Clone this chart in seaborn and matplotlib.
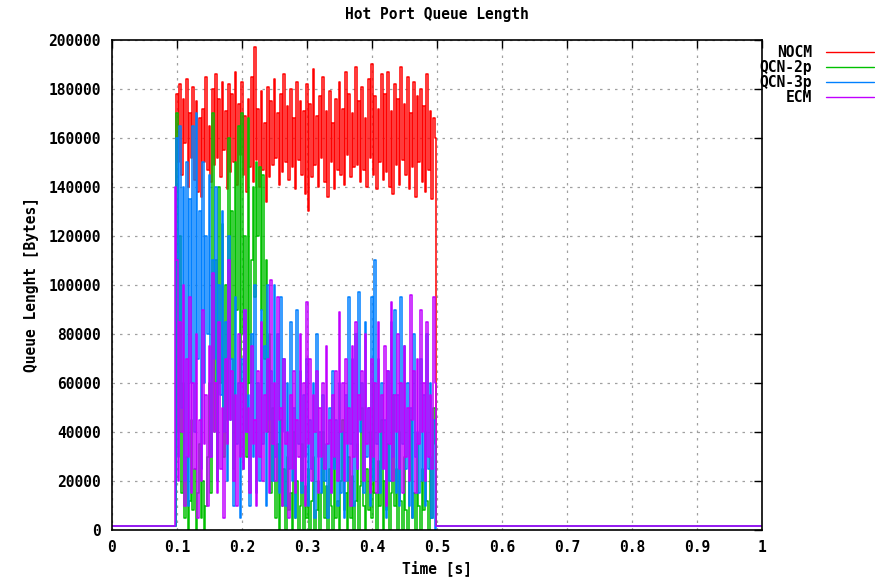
import numpy as np
import pandas as pd
import matplotlib
matplotlib.use("Agg")
import matplotlib.pyplot as plt
import seaborn as sns

# ---------------- data (values in kB, sampled every 2.5 ms from 0.1 s) ----------------
series_names = ["NOCM", "QCN-2p", "QCN-3p", "ECM"]
series_colors = ["#ff0000", "#00c000", "#0080ff", "#c000ff"]

t_active_start = 0.1
t_step = 0.0025

nocm_kb = [
    178, 150, 182, 145, 176, 158, 184, 140, 170, 152,
    181, 143, 175, 138, 168, 136, 172, 150, 185, 147,
    165, 142, 180, 149, 186, 152, 176, 144, 183, 155,
    171, 139, 182, 146, 178, 150, 187, 141, 174, 153,
    183, 145, 169, 138, 176, 148, 185, 142, 197, 151,
    172, 140, 179, 147, 166, 134, 181, 144, 175, 149,
    184, 152, 170, 141, 178, 146, 186, 150, 173, 143,
    180, 148, 168, 139, 183, 151, 175, 145, 171, 137,
    182, 130, 174, 144, 188, 149, 169, 140, 177, 152,
    185, 142, 171, 136, 179, 150, 166, 139, 176, 147,
    183, 145, 172, 141, 187, 153, 178, 144, 170, 148,
    189, 149, 175, 142, 181, 147, 168, 140, 184, 152,
    190, 145, 177, 139, 172, 150, 186, 143, 178, 146,
    187, 140, 171, 137, 182, 149, 176, 141, 189, 151,
    174, 145, 185, 139, 170, 148, 183, 136, 177, 150,
    180, 142, 173, 138, 186, 147, 171, 135, 168, 160,
]

qcn2p_kb = [
    170, 40, 120, 15, 60, 5, 30, 0, 12, 45,
    8, 25, 0, 15, 35, 5, 20, 0, 10, 30,
    60, 15, 170, 40, 110, 20, 140, 60, 125, 30,
    100, 45, 160, 70, 130, 25, 150, 90, 165, 60,
    170, 80, 120, 30, 168, 60, 110, 140, 95, 150,
    120, 148, 90, 145, 70, 110, 40, 80, 15, 50,
    20, 5, 35, 0, 45, 10, 25, 0, 30, 8,
    15, 0, 40, 5, 20, 0, 10, 35, 0, 18,
    5, 25, 0, 12, 30, 0, 8, 20, 0, 15,
    40, 5, 18, 0, 25, 10, 0, 30, 5, 12,
    0, 20, 45, 8, 15, 0, 30, 5, 22, 0,
    12, 35, 0, 18, 50, 10, 0, 25, 8, 40,
    5, 60, 15, 0, 28, 10, 45, 0, 20, 8,
    35, 0, 15, 55, 10, 25, 0, 40, 12, 0,
    30, 8, 0, 20, 45, 5, 15, 0, 35, 10,
    0, 25, 8, 40, 12, 0, 30, 5, 50, 35,
]

qcn3p_kb = [
    160, 30, 165, 50, 140, 20, 150, 10, 135, 60,
    165, 40, 170, 70, 130, 25, 150, 60, 120, 80,
    145, 30, 110, 70, 140, 20, 100, 55, 130, 40,
    85, 20, 120, 45, 70, 10, 95, 35, 60, 5,
    70, 25, 90, 40, 55, 10, 80, 30, 100, 15,
    60, 20, 90, 35, 75, 10, 100, 45, 65, 20,
    100, 30, 80, 15, 95, 40, 70, 10, 60, 25,
    85, 20, 50, 5, 90, 35, 65, 15, 55, 30,
    70, 10, 45, 25, 60, 5, 80, 30, 40, 15,
    55, 20, 35, 5, 50, 15, 65, 25, 45, 10,
    60, 15, 40, 5, 55, 20, 95, 35, 70, 10,
    80, 25, 97, 40, 60, 15, 85, 30, 50, 10,
    95, 20, 110, 35, 70, 15, 60, 25, 45, 5,
    65, 20, 85, 30, 90, 15, 55, 10, 95, 35,
    75, 25, 60, 10, 50, 5, 80, 30, 40, 15,
    70, 20, 55, 10, 80, 25, 60, 5, 45, 0,
]

ecm_kb = [
    110, 20, 85, 40, 100, 10, 70, 30, 95, 15,
    60, 25, 80, 5, 45, 20, 90, 35, 55, 10,
    75, 30, 105, 40, 60, 15, 85, 25, 50, 5,
    70, 35, 110, 45, 65, 20, 55, 10, 80, 30,
    60, 25, 90, 40, 50, 15, 75, 35, 45, 10,
    65, 30, 85, 20, 55, 40, 70, 15, 102, 35,
    60, 20, 95, 45, 50, 10, 70, 35, 40, 5,
    55, 25, 65, 15, 45, 30, 80, 20, 60, 10,
    93, 35, 70, 20, 55, 40, 65, 15, 50, 30,
    60, 25, 75, 35, 45, 15, 55, 30, 65, 20,
    89, 40, 60, 20, 70, 35, 50, 10, 75, 30,
    85, 25, 55, 45, 65, 20, 80, 35, 50, 15,
    70, 30, 60, 15, 85, 40, 55, 25, 75, 10,
    65, 35, 93, 20, 55, 40, 80, 25, 60, 15,
    75, 30, 50, 20, 96, 45, 65, 15, 70, 35,
    90, 40, 60, 20, 85, 30, 55, 25, 95, 60,
]

# idle periods before and after the burst
pre_t = [0.0, 0.0965, 0.0975]
pre_kb = {
    "NOCM": [1.5, 1.5, 1.5],
    "QCN-2p": [1.5, 1.5, 1.5],
    "QCN-3p": [1.5, 1.5, 1.5],
    "ECM": [1.5, 1.5, 140.0],
}
post_t = [0.4985, 1.0]
post_kb = [1.5, 1.5]

x_ticks = [0, 0.1, 0.2, 0.3, 0.4, 0.5, 0.6, 0.7, 0.8, 0.9, 1.0]
x_tick_labels = ["0", "0.1", "0.2", "0.3", "0.4", "0.5", "0.6", "0.7", "0.8", "0.9", "1"]
y_ticks = list(range(0, 200001, 20000))

# ---------------- build table ----------------
active = {"NOCM": nocm_kb, "QCN-2p": qcn2p_kb, "QCN-3p": qcn3p_kb, "ECM": ecm_kb}
rows = []
for name in series_names:
    vals = active[name]
    tt = t_active_start + t_step * np.arange(len(vals))
    for t, v in zip(pre_t, pre_kb[name]):
        rows.append((name, t, v * 1000))
    for t, v in zip(tt, vals):
        rows.append((name, t, v * 1000))
    for t, v in zip(post_t, post_kb):
        rows.append((name, t, v * 1000))
df = pd.DataFrame(rows, columns=["series", "t", "bytes"])

# ---------------- plot ----------------
sns.set_style("white")
plt.rcParams["font.family"] = ["DejaVu Sans Mono", "DejaVu Sans"]
plt.rcParams["font.weight"] = "bold"
for k in ["text.color", "axes.labelcolor", "xtick.color", "ytick.color"]:
    plt.rcParams[k] = "black"
FS = 10.5

fig = plt.figure(figsize=(8.75, 5.78), dpi=100)
ax = fig.add_axes([112 / 875, 48 / 578, 650 / 875, 490 / 578])

sns.lineplot(data=df, x="t", y="bytes", hue="series", hue_order=series_names,
             palette=series_colors, estimator=None, sort=False, linewidth=1.1,
             drawstyle="steps-mid", ax=ax, legend=True)

ax.set_xlim(0, 1)
ax.set_ylim(0, 200000)
ax.set_xticks(x_ticks)
ax.set_xticklabels(x_tick_labels, fontsize=FS, fontweight="bold")
ax.set_yticks(y_ticks)
ax.set_yticklabels([str(v) for v in y_ticks], fontsize=FS, fontweight="bold")
ax.tick_params(axis="both", direction="in", length=6, width=1, top=True, right=True,
               colors="black")
ax.tick_params(axis="x", pad=7)
ax.tick_params(axis="y", pad=8)
ax.grid(True, color="#a0a0a0", linestyle=(0, (2, 4)), linewidth=0.9)
for s in ax.spines.values():
    s.set_visible(True)
    s.set_color("black")
    s.set_linewidth(1.2)

ax.set_xlabel("Time [s]", fontsize=FS, fontweight="bold", labelpad=4)
ax.set_ylabel("Queue Lenght [Bytes]", fontsize=FS, fontweight="bold", labelpad=7)
ax.set_title("Hot Port Queue Length", fontsize=FS, fontweight="bold", pad=15, color="black")

handles, labels = ax.get_legend_handles_labels()
leg = ax.legend(handles, labels, loc="upper right",
                bbox_to_anchor=(874 / 875, 1 - 45 / 578),
                bbox_transform=fig.transFigure, markerfirst=False, frameon=False,
                handlelength=3.3, handletextpad=0.95, labelspacing=0.0,
                prop={"family": "DejaVu Sans Mono", "weight": "bold", "size": FS},
                borderaxespad=0, borderpad=0)
for l in leg.get_lines():
    l.set_linewidth(1.0)
    l.set_drawstyle("default")

fig.savefig("out.png", dpi=100, facecolor="white")
